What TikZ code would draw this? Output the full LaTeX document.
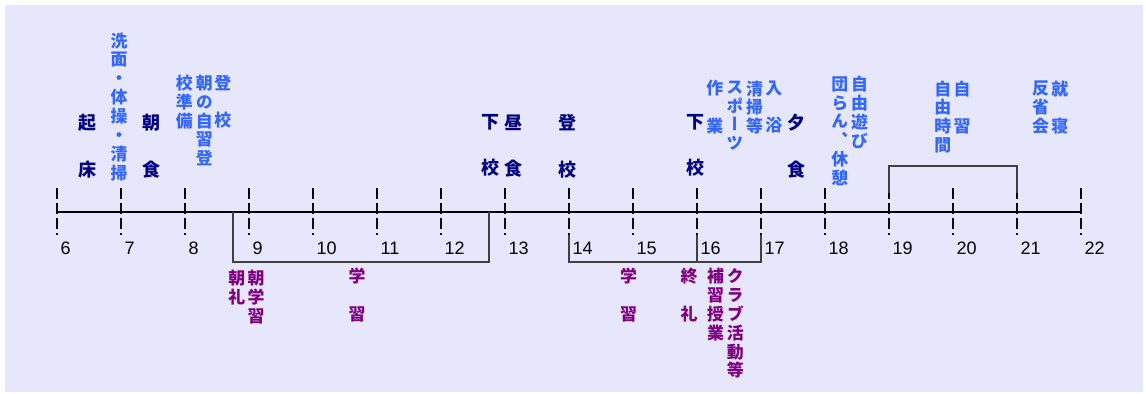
\documentclass[tikz,border=0pt]{standalone}
\usepackage{fontspec}
\setmainfont{Liberation Sans}
\newfontfamily\jpfont[RawFeature=+vert]{Noto Sans CJK JP}
\definecolor{daynavy}{RGB}{0,0,128}
\definecolor{dayblue}{RGB}{51,102,255}
\definecolor{daypurple}{RGB}{128,0,128}
\definecolor{daybg}{RGB}{230,230,252}
\usetikzlibrary{calc}

\begin{document}
\begin{tikzpicture}[
    meal/.style={font=\jpfont\bfseries\fontsize{8}{20.6}\selectfont, text=daynavy, align=center, inner sep=0pt, anchor=north},
    note/.style={font=\jpfont\bfseries\fontsize{7.5}{8.4}\selectfont, text=dayblue, align=center, inner sep=0pt, anchor=north},
    school/.style={font=\jpfont\bfseries\fontsize{7.5}{8.4}\selectfont, text=daypurple, align=center, inner sep=0pt, anchor=north},
    hour/.style={font=\fontsize{8}{9}\selectfont, inner sep=0pt, anchor=base west},
    tick/.style={line width=1.3pt, dash pattern=on 4.9pt off 1.75pt},
    bracket/.style={line width=0.65pt, draw=black!75}
]
    \useasboundingbox (5.109,-2.844) rectangle (23.016,3.3125);
    \fill[daybg] (5.187,-2.813) rectangle (22.969,3.234);

    % Hours
    \foreach \h in {6,...,22} {
        \coordinate (t\h) at (\h,0);
        \draw[tick] (\h,0.375) -- (\h,-0.36);
        \node[hour] (n\h) at (\h+0.05,-0.664) {\h};
    }
    \draw[line width=1.1pt] (t6) -- (t22);

    % Brackets
    \draw[bracket] (8.75,0) -- (8.75,-0.78) -- (12.75,-0.78) -- (12.75,0);
    \draw[bracket] ($(t14)+(0,-0.36)$) -- ($(t14)+(0,-0.78)$) -- ($(t17)+(0,-0.78)$) -- ($(t17)+(0,-0.36)$);
    \draw[bracket] ($(t16)+(0,-0.36)$) -- ($(t16)+(0,-0.78)$);
    \draw[bracket] ($(t19)+(0,0.30)$) -- ($(t19)+(0,0.72)$) -- ($(t21)+(0,0.72)$) -- ($(t21)+(0,0.30)$);

    % Morning
    \node[meal] (kisho) at (6.47,1.53) {起\\床};
    \node[note] (senmen) at (6.97,2.81) {洗\\面\\・\\体\\操\\・\\清\\掃};
    \node[meal] (choshoku) at (7.47,1.53) {朝\\食};
    \node[note] (tokoA) at (8.59,2.15) {登\\[8.4pt]校};
    \node[note] (asajishu) at (8.30,2.15) {朝\\の\\自\\習\\登};
    \node[note] (junbi) at (7.99,2.15) {校\\準\\備};

    % Midday
    \node[meal] (gekoA) at (12.77,1.53) {下\\校};
    \node[meal] (chushoku) at (13.13,1.53) {昼\\食};
    \node[meal] (tokoB) at (13.98,1.53) {登\\校};

    % Afternoon
    \node[meal] (gekoB) at (15.97,1.53) {下\\校};
    \node[note] (sagyo) at (16.28,2.06) {作\\[8.4pt]業};
    \node[note] (sports) at (16.59,2.06) {ス\\ポ\\ー\\ツ};
    \node[note] (seiso) at (16.90,2.06) {清\\掃\\等};
    \node[note] (nyuyoku) at (17.20,2.06) {入\\[8.4pt]浴};
    \node[meal] (yushoku) at (17.56,1.53) {夕\\食};

    % Evening
    \node[note] (danran) at (18.23,2.125) {団\\ら\\ん\\、\\休\\憩};
    \node[note] (asobi) at (18.54,2.125) {自\\由\\遊\\び};
    \node[note] (jiyu) at (19.84,2.06) {自\\由\\時\\間};
    \node[note] (jishu) at (20.14,2.06) {自\\[8.4pt]習};
    \node[note] (hansei) at (21.37,2.06) {反\\省\\会};
    \node[note] (shushin) at (21.67,2.06) {就\\[8.4pt]寝};

    % Lessons
    \node[school] (chorei) at (8.81,-0.906) {朝\\礼};
    \node[school] (asagaku) at (9.11,-0.906) {朝\\学\\習};
    \node[school] (gakushuA) at (10.69,-0.875) {学\\[8.4pt]習};
    \node[school] (gakushuB) at (14.93,-0.875) {学\\[8.4pt]習};
    \node[school] (shurei) at (15.875,-0.875) {終\\[8.4pt]礼};
    \node[school] (hoshu) at (16.29,-0.875) {補\\習\\授\\業};
    \node[school] (club) at (16.60,-0.875) {ク\\ラ\\ブ\\活\\動\\等};
\end{tikzpicture}
\end{document}
